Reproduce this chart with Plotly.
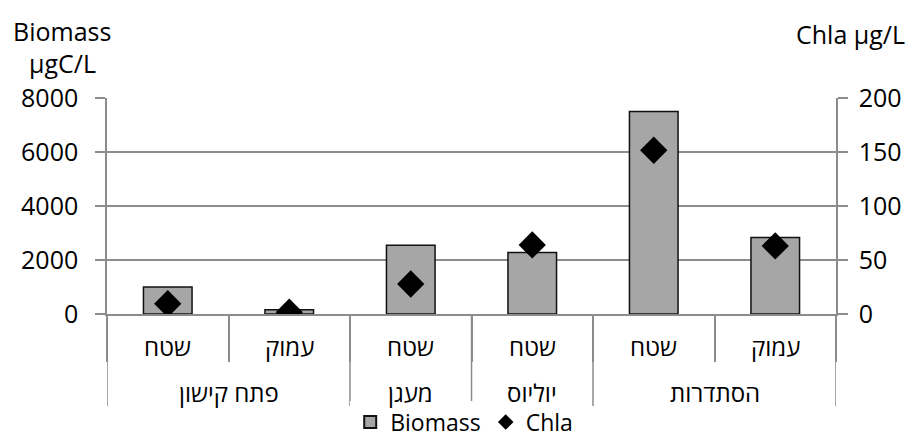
import plotly.graph_objects as go

# Sampling sites (group) and depth (sub-category)
sites = ["פתח קישון", "פתח קישון", "מעגן", "יוליוס", "הסתדרות", "הסתדרות"]
depths = ["שטח", "עמוק", "שטח", "שטח", "שטח", "עמוק"]

biomass = [1000, 160, 2550, 2280, 7500, 2830]   # µgC/L
chla = [9.5, 1.7, 27.8, 64, 151.6, 63]           # µg/L

FONT = "Open Sans, Liberation Sans, DejaVu Sans, sans-serif"
GRID = "#8c8c8c"
FS = 25

pos = list(range(len(depths)))

fig = go.Figure()
fig.add_trace(go.Bar(
    x=pos, y=biomass, name="Biomass",
    marker=dict(color="#a6a6a6", line=dict(color="#111111", width=1.5)),
    width=0.4,
))
fig.add_trace(go.Scatter(
    x=pos, y=chla, name="Chla", yaxis="y2", mode="markers",
    marker=dict(symbol="diamond", size=21, color="black"),
))

# Two-level category labels under the axis
annotations = []
for i, d in enumerate(depths):
    annotations.append(dict(text=d, x=i, xref="x", y=-0.15, yref="paper",
                            yanchor="middle", showarrow=False, font=dict(size=FS - 1)))

groups = []  # (name, first index, last index)
for i, s in enumerate(sites):
    if groups and groups[-1][0] == s:
        groups[-1][2] = i
    else:
        groups.append([s, i, i])

shapes = []
for name, a, b in groups:
    annotations.append(dict(text=name, x=(a + b) / 2, xref="x", y=-0.365, yref="paper",
                            yanchor="middle", showarrow=False, font=dict(size=FS - 1)))
    shapes.append(dict(type="line", xref="x", yref="paper", x0=a - 0.5, x1=a - 0.5,
                       y0=0, y1=-0.426, line=dict(color=GRID, width=1.5)))
shapes.append(dict(type="line", xref="x", yref="paper", x0=len(depths) - 0.5,
                   x1=len(depths) - 0.5, y0=0, y1=-0.426, line=dict(color=GRID, width=1.5)))

annotations += [
    dict(text="Biomass", xref="paper", yref="paper", x=-0.0617, y=1.311,
         xanchor="center", yanchor="middle", showarrow=False, font=dict(size=FS)),
    dict(text="µgC/L", xref="paper", yref="paper", x=-0.0617, y=1.164,
         xanchor="center", yanchor="middle", showarrow=False, font=dict(size=FS)),
    dict(text="Chla µg/L", xref="paper", yref="paper", x=1.02, y=1.297,
         xanchor="center", yanchor="middle", showarrow=False, font=dict(size=FS)),
]

fig.update_layout(
    width=912, height=440,
    margin=dict(l=107, r=76, t=97.5, b=125.5, autoexpand=False),
    paper_bgcolor="white", plot_bgcolor="white",
    font=dict(family=FONT, size=FS, color="black"),
    showlegend=True,
    legend=dict(orientation="h", x=0.49, xanchor="center", y=-0.5, yanchor="middle",
                font=dict(size=FS - 2), tracegroupgap=0, borderwidth=0,
                itemsizing="constant"),
    xaxis=dict(
        range=[-0.5, len(depths) - 0.5], showline=True, linecolor=GRID, linewidth=1.5,
        tickmode="array", tickvals=[i - 0.5 for i in range(len(depths) + 1)],
        showticklabels=False, ticks="outside", ticklen=46, tickcolor=GRID, tickwidth=1.5,
        showgrid=False, zeroline=False,
    ),
    yaxis=dict(
        range=[0, 8000], dtick=2000, showgrid=True, gridcolor=GRID, gridwidth=1.5,
        showline=True, linecolor=GRID, linewidth=1.5, ticks="outside", ticklen=10,
        tickcolor=GRID, tickwidth=1.5, zeroline=False, ticklabelstandoff=12,
    ),
    yaxis2=dict(
        range=[0, 200], dtick=50, overlaying="y", side="right", showgrid=False,
        showline=True, linecolor=GRID, linewidth=1.5, ticks="outside", ticklen=10,
        tickcolor=GRID, tickwidth=1.5, zeroline=False, ticklabelstandoff=6,
    ),
    annotations=annotations,
    shapes=shapes,
)

fig.write_html("out.html")
